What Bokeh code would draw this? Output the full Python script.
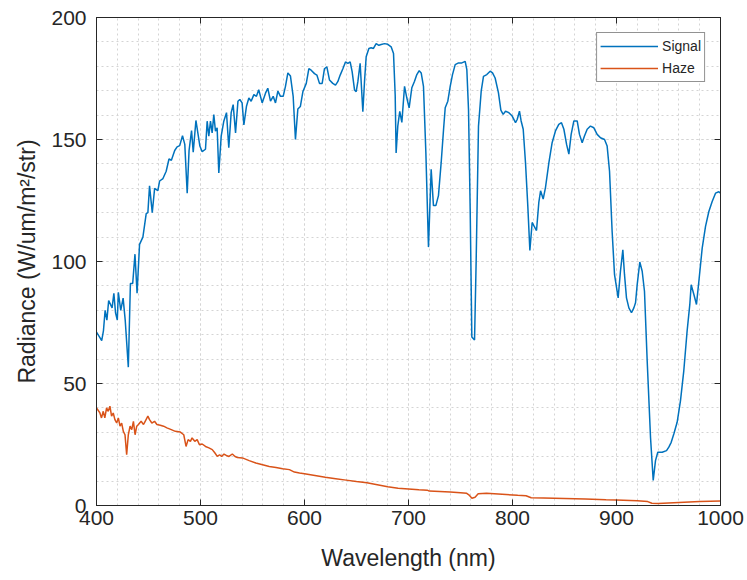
from bokeh.plotting import figure
from bokeh.models import (SingleIntervalTicker, LinearAxis, Range1d, Legend, LegendItem,
                          CustomJSTickFormatter)
from bokeh.embed import file_html
from bokeh.resources import INLINE

# ---------------- data ----------------
signal_nm = [400, 403, 405, 406.7, 408.3, 410, 411.7, 415, 416.7, 418.3, 420, 421, 423.3, 425.6, 427.6,
             430.6, 432.6, 434.8, 437, 439, 441.4, 444.6, 447.8, 449.4, 451, 453.6, 455.9, 459, 460.7,
             463.9, 467, 469.7, 472, 475.2, 477.5, 480, 482.7, 484.9, 487.2, 489, 491.4, 493, 495.6,
             499.4, 501.6, 504.8, 506.4, 508, 509.6, 511.2, 512.8, 514.4, 516, 517.6, 519.9, 522.4,
             525, 527.2, 529.5, 531.4, 533.7, 536, 537.8, 540, 541.7, 544.2, 546.5, 548.7, 551.3,
             553.8, 556, 559.3, 562.5, 564.7, 567.3, 569.9, 572.1, 574.4, 576.9, 579.5, 581.7, 584,
             586.5, 589.1, 591.3, 593.6, 596, 598.5, 601.7, 604.2, 606.4, 609.6, 611.9, 614.4, 617,
             619.2, 621.5, 624, 627.2, 629.8, 632, 634.3, 636.9, 639.4, 641.7, 643.9, 645.8, 648.1,
             649.7, 651.3, 653.5, 656.1, 657.7, 659.3, 661.9, 664.1, 666.3, 668.9, 671.5, 673.7,
             676.9, 680.1, 683.3, 685.6, 687.2, 688.1, 689.7, 691.6, 693.6, 696.2, 698.4, 700.6,
             703.2, 705.8, 708, 710.3, 712.2, 714.4, 716.7, 719.2, 721.8, 724, 726.3, 728.8, 731.4,
             733.7, 735.3, 737.8, 740.1, 742.3, 744.9, 748.1, 751.3, 754.5, 756.1, 757.7, 759.3,
             760.9, 763.5, 765.1, 767.3, 769.9, 772.1, 775.3, 778.5, 780.8, 783.3, 786.5, 788.8,
             791, 793.3, 796.5, 799.7, 802.9, 804.5, 806.7, 808.3, 810.3, 812.5, 814.7, 816.7, 818.9,
             820.5, 823.1, 825.3, 827, 829.5, 831.7, 835, 838.1, 841.3, 844.5, 847.1, 849.4, 852,
             854.2, 856.4, 859, 862.2, 864.4, 867, 869.2, 871.8, 875, 878.2, 881.4, 884.6, 888.5,
             891, 893.3, 895.8, 898.1, 901.6, 903.8, 906.1, 907.7, 909.6, 911.9, 914.4, 916.7, 918.3,
             919.9, 922.4, 924.7, 926.9, 929.5, 932.7, 935.3, 937.5, 939.7, 943.9, 948.1, 950.3,
             952.6, 955.1, 958.3, 961.5, 964.7, 967.9, 970.5, 971.8, 974.4, 976.9, 979.2, 982.4,
             985.6, 988.8, 992, 995.2, 998.4, 1000]
signal_val = [71, 69, 67.6, 71.7, 80, 76, 84, 81, 87, 79, 76, 87.4, 80, 85, 76,
              56.7, 91, 91, 103, 87, 107, 110, 119.6, 120, 131, 120, 130, 129, 133,
              134, 137, 142, 141.5, 145.5, 147, 147.5, 151.6, 148, 128, 145.5, 153.7, 144.8, 157.8,
              147.3, 145, 146, 157.5, 151.4, 157.5, 152.7, 160.2, 153.4, 154.8, 136.3, 151.4, 157.5,
              161, 146.6, 161, 164.3, 152.7, 165.7, 166.4, 165, 156, 163.6, 167, 165.7, 168.4,
              167.7, 170.4, 165, 169, 171, 165.7, 167.7, 165, 169.8, 167.7, 167.7, 171.8, 177.3,
              176, 167.7, 150, 162.5, 163.5, 169.7, 173, 179, 178.4, 177, 176.4, 173, 173,
              179, 179.8, 174.4, 173, 172.3, 173.7, 176.4, 179, 181.8, 181.2, 181.8, 177.8, 170.3,
              169.6, 173.7, 181.2, 161.4, 173.7, 183.9, 187.3, 187.6, 187.3, 189.3, 188.6, 188.9,
              189.3, 189, 188, 185.2, 168.2, 144.5, 155.5, 161.5, 157, 171.8, 167, 163,
              171.2, 173.9, 176.6, 178.2, 177.3, 171.8, 144.6, 105.9, 137.8, 122.9, 122.9, 127, 140.5,
              154.1, 163, 165.7, 171.8, 176.6, 180.7, 181.4, 181.4, 182, 178.6, 162.3, 121.5,
              69.1, 67.8, 101.1, 155.5, 169.8, 175.9, 176.6, 178, 177.3, 175.2, 169.1, 162,
              160.3, 161.6, 161, 159.6, 156.9, 158.2, 161.6, 157.6, 154.2, 140.5, 122.9, 104.5, 116,
              114.7, 112.7, 124.2, 129, 125.6, 130.3, 140.5, 148.7, 153.5, 156.2, 156.9, 154.2, 148,
              144, 152.1, 157.6, 157.6, 152.1, 148.7, 151.4, 154.2, 155.5, 154.8, 152.1, 150.7, 150,
              147.3, 137, 112.3, 94.6, 85.1, 96, 104.8, 94.6, 85.1, 81, 79, 81, 83.1,
              90.5, 99.8, 96, 87.8, 59.3, 28, 10.3, 18.4, 21.8, 21.8, 22.5, 23.9,
              25.9, 29.3, 34.1, 42.9, 55.2, 71.5, 82.4, 90.5, 86.5, 82.4, 91.9, 105.5,
              114.4, 120.5, 124.6, 128, 128.6, 128]

haze_nm = [400, 403.2, 404.8, 406.5, 408, 409.7, 411.3, 412.9, 414.5, 416.1, 417.7, 419.4, 421,
           422.6, 424.2, 425.8, 427.4, 429, 430.6, 432.3, 433.9, 435.5, 437.1, 438.7, 440.3,
           442.9, 445.2, 446.8, 449.4, 451, 453.2, 455.8, 458.1, 461.3, 464.5, 467.7, 471.9,
           475.8, 480.6, 483.9, 486.1, 488.1, 490.3, 491.9, 494.5, 496.8, 499, 501.6, 504.8,
           508.1, 511.3, 513.9, 516.1, 518.4, 520.3, 522.6, 524.8, 527.4, 530.6, 533.2, 535.5,
           540.3, 546.8, 553.2, 559.7, 566.1, 572.6, 579, 585.5, 590.3, 595.2, 600, 610, 620,
           630, 640, 650, 660, 670, 680, 690, 700, 710, 718, 720, 730, 740, 750, 756, 758, 761,
           764, 767, 775, 790, 805, 813, 818, 830, 850, 870, 890, 900, 920, 930, 934, 940, 950,
           965, 980, 1000]
haze_val = [40, 38, 35.9, 38.6, 35.9, 40, 38.6, 40.7, 36.6, 37.9, 35.2, 33.8, 35.9,
            32.5, 33.8, 30.4, 29, 20.8, 29, 32.5, 31.1, 34.5, 29, 32.5, 33.2,
            34.5, 33.2, 34.5, 36.6, 35.2, 33.8, 34.5, 33.2, 32.9, 32.5, 31.8, 31.1,
            30.4, 30.1, 29, 24.2, 27, 26.3, 27.7, 26.3, 27, 24.9, 25.2, 24.2,
            23.6, 22.9, 21.5, 20.1, 20.8, 20.1, 21.1, 20.5, 20.1, 21.1, 20.1, 19.7,
            19.5, 18.4, 17.4, 16.7, 16, 15.6, 15.1, 14.7, 13.7, 13.3, 13, 12.3, 11.6,
            11, 10.4, 9.8, 9.3, 8.5, 7.7, 7.1, 6.8, 6.5, 6.3, 5.9, 5.7, 5.5, 5.2, 5, 4.4, 3.0,
            3.4, 4.8, 5.0, 4.6, 4.2, 4.0, 3.2, 3.1, 2.9, 2.7, 2.4, 2.3, 1.9, 1.6, 0.9, 0.8, 1.0,
            1.3, 1.6, 1.8]

x_start, x_end, x_step = 400, 1000, 100
y_start, y_end, y_step = 0, 200, 50

FONT = "Liberation Sans"
TXT = "#262626"
GRID = "#d4d4d4"

p = figure(frame_width=624, frame_height=488,
           x_range=Range1d(x_start, x_end), y_range=Range1d(y_start, y_end),
           output_backend="svg", toolbar_location=None,
           min_border_left=96, min_border_right=27, min_border_top=17, min_border_bottom=75)
p.background_fill_color = "white"
p.border_fill_color = "white"
p.outline_line_color = TXT
p.outline_line_width = 1
p.outline_line_alpha = 1

xt = SingleIntervalTicker(interval=x_step, num_minor_ticks=5)
yt = SingleIntervalTicker(interval=y_step, num_minor_ticks=5)
p.xaxis[0].ticker = xt
p.yaxis[0].ticker = yt
p.xgrid[0].ticker = xt
p.ygrid[0].ticker = yt

for g in (p.xgrid[0], p.ygrid[0]):
    g.grid_line_color = GRID
    g.grid_line_dash = "2 3"
    g.grid_line_width = 1
    g.minor_grid_line_color = GRID
    g.minor_grid_line_dash = "2 3"
    g.minor_grid_line_width = 1

def style_axis(ax, labels=True):
    ax.axis_line_color = TXT
    ax.major_tick_line_color = TXT
    ax.major_tick_in = 6
    ax.major_tick_out = 0
    ax.minor_tick_in = 0
    ax.minor_tick_out = 0
    ax.major_label_text_font = FONT
    ax.major_label_text_color = TXT
    ax.axis_label_text_font = FONT
    ax.axis_label_text_color = TXT
    ax.axis_label_text_font_style = "normal"
    if not labels:
        ax.formatter = CustomJSTickFormatter(code="return ''")
        ax.major_label_text_font_size = "1px"
        ax.major_label_standoff = 0

xa = p.xaxis[0]
ya = p.yaxis[0]
style_axis(xa)
style_axis(ya)
xa.major_label_text_font_size = "21px"
ya.major_label_text_font_size = "21px"
xa.major_label_standoff = 5
ya.major_label_standoff = 10
xa.axis_label = "Wavelength (nm)"
ya.axis_label = "Radiance (W/um/m\u00b2/str)"
xa.axis_label_text_font_size = "23px"
ya.axis_label_text_font_size = "23px"
xa.axis_label_standoff = 17
ya.axis_label_standoff = 8

top = LinearAxis(ticker=xt)
style_axis(top, labels=False)
p.add_layout(top, "above")
right = LinearAxis(ticker=yt)
style_axis(right, labels=False)
p.add_layout(right, "right")

r1 = p.line(signal_nm, signal_val, line_color="#0072BD", line_width=1.5)
r2 = p.line(haze_nm, haze_val, line_color="#D95319", line_width=1.5)

legend = Legend(items=[LegendItem(label="Signal", renderers=[r1]),
                       LegendItem(label="Haze", renderers=[r2])],
                location="top_right")
legend.margin = 15
legend.padding = 3
legend.spacing = 2
legend.glyph_width = 58
legend.glyph_height = 20
legend.label_height = 20
legend.label_standoff = 4
legend.label_text_font = FONT
legend.label_text_font_size = "14px"
legend.label_text_color = TXT
legend.border_line_color = TXT
legend.border_line_width = 1
legend.background_fill_color = "white"
legend.background_fill_alpha = 1
p.add_layout(legend)

open("out.html", "w").write(file_html(p, INLINE))
